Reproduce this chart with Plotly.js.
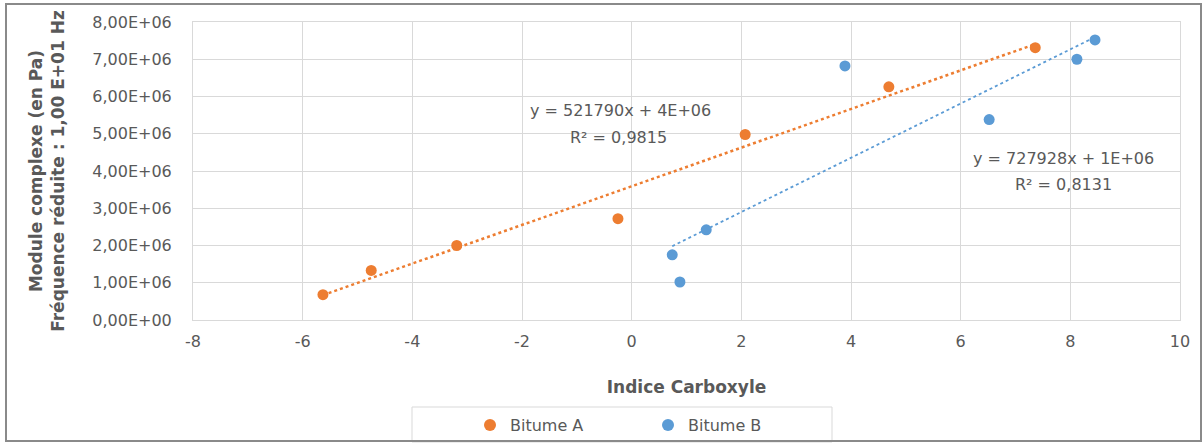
<!DOCTYPE html>
<html>
<head>
<meta charset="utf-8">
<script src="https://cdn.plot.ly/plotly-3.0.1.min.js"></script>
<style>
html,body{margin:0;padding:0;background:#fff;}
#chart{position:absolute;left:0;top:0;width:1204px;height:443px;}
#frame{position:absolute;left:5px;top:3px;width:1193px;height:435px;border:2px solid #8a8a8a;pointer-events:none;}
</style>
</head>
<body>
<div id="chart"></div>
<div id="frame"></div>
<script>
// Data
const seriesNames = ["Bitume A", "Bitume B"];
const bitumeA_x = [-5.63, -4.75, -3.19, -0.25, 2.07, 4.69, 7.36];
const bitumeA_y = [0.68e6, 1.33e6, 2.0e6, 2.72e6, 4.98e6, 6.26e6, 7.31e6];
const bitumeB_x = [0.74, 0.88, 1.36, 3.89, 6.52, 8.12, 8.45];
const bitumeB_y = [1.75e6, 1.02e6, 2.42e6, 6.82e6, 5.38e6, 7.0e6, 7.52e6];
const equationA = ["y = 521790x + 4E+06", "R² = 0,9815"];
const equationB = ["y = 727928x + 1E+06", "R² = 0,8131"];
const yTickVals = [0, 1e6, 2e6, 3e6, 4e6, 5e6, 6e6, 7e6, 8e6];
const yTickText = ["0,00E+00","1,00E+06","2,00E+06","3,00E+06","4,00E+06","5,00E+06","6,00E+06","7,00E+06","8,00E+06"];
const xTickVals = [-8,-6,-4,-2,0,2,4,6,8,10];
const xTickText = ["-8","-6","-4","-2","0","2","4","6","8","10"];
const xTitle = "Indice Carboxyle";
const yTitle = "Module complexe (en Pa)<br>Fréquence réduite : 1,00 E+01 Hz";

const orange = "#ED7D31";
const blue = "#5B9BD5";
const textGray = "#595959";
const FONT = "DejaVu Sans, sans-serif";

function linfit(xs, ys) {
  const n = xs.length;
  const mx = xs.reduce((a,b)=>a+b,0)/n;
  const my = ys.reduce((a,b)=>a+b,0)/n;
  let sxx=0, sxy=0;
  for (let i=0;i<n;i++){ sxx+=(xs[i]-mx)**2; sxy+=(xs[i]-mx)*(ys[i]-my); }
  const m = sxy/sxx, b = my - m*mx;
  const x0 = Math.min(...xs), x1 = Math.max(...xs);
  return {x:[x0,x1], y:[m*x0+b, m*x1+b]};
}
const fitA = linfit(bitumeA_x, bitumeA_y);
const fitB = linfit(bitumeB_x, bitumeB_y);

const traces = [
  {x: fitA.x, y: fitA.y, mode:"lines", line:{color:orange, width:2.5, dash:"dot"}, showlegend:false, hoverinfo:"skip"},
  {x: fitB.x, y: fitB.y, mode:"lines", line:{color:blue, width:1.8, dash:"dot"}, showlegend:false, hoverinfo:"skip"},
  {x: bitumeA_x, y: bitumeA_y, mode:"markers", name: seriesNames[0], marker:{color:orange, size:11}},
  {x: bitumeB_x, y: bitumeB_y, mode:"markers", name: seriesNames[1], marker:{color:blue, size:11}}
];

const W=1204, H=443;
const L=193, R=1180, T=22, B=320;
const pw = R-L, ph = B-T;
function px2paperX(p){ return (p-L)/pw; }
function px2paperY(p){ return (B-p)/ph; }

const layout = {
  width:W, height:H,
  margin:{l:L, r:W-R, t:T, b:H-B, pad:0},
  paper_bgcolor:"#fff", plot_bgcolor:"#fff",
  font:{family:FONT, color:textGray, size:16},
  showlegend:true,
  legend:{orientation:"h", xref:"container", yref:"container",
          x:470/W, xanchor:"left", y:(H-425)/H, yanchor:"middle",
          font:{family:FONT, size:16, color:textGray}, entrywidth:133, entrywidthmode:"pixels",
          itemsizing:"constant", bgcolor:"rgba(0,0,0,0)", borderwidth:0},
  xaxis:{range:[-8,10], tickvals:xTickVals, ticktext:xTickText, showgrid:true, gridcolor:"#D9D9D9", gridwidth:1,
         zeroline:false, showline:true, linecolor:"#D9D9D9", mirror:true, ticks:"",
         tickfont:{family:FONT, size:16, color:textGray}, ticklabelstandoff:7,
         title:{text:xTitle, font:{family:FONT, size:17, color:textGray, weight:"bold"}, standoff:30},
         automargin:false, fixedrange:true},
  yaxis:{range:[0,8e6], tickvals:yTickVals, ticktext:yTickText, showgrid:true, gridcolor:"#D9D9D9", gridwidth:1,
         zeroline:false, showline:true, linecolor:"#D9D9D9", mirror:true, ticks:"",
         tickfont:{family:FONT, size:16, color:textGray}, ticklabelstandoff:17,
         title:{text:yTitle, font:{family:FONT, size:17, color:textGray, weight:"bold"}, standoff:23},
         automargin:false, fixedrange:true},
  shapes:[{type:"rect", xref:"paper", yref:"paper", x0:px2paperX(412), x1:px2paperX(832),
           y0:px2paperY(442), y1:px2paperY(407), line:{color:"#D9D9D9", width:1}, fillcolor:"rgba(0,0,0,0)", layer:"below"}],
  annotations:[
    {xref:"paper", yref:"paper", x:px2paperX(620), y:px2paperY(110), text:equationA[0], showarrow:false,
     xanchor:"center", yanchor:"middle", font:{family:FONT, size:16, color:textGray}},
    {xref:"paper", yref:"paper", x:px2paperX(618), y:px2paperY(137), text:equationA[1], showarrow:false,
     xanchor:"center", yanchor:"middle", font:{family:FONT, size:16, color:textGray}},
    {xref:"paper", yref:"paper", x:px2paperX(1063), y:px2paperY(158), text:equationB[0], showarrow:false,
     xanchor:"center", yanchor:"middle", font:{family:FONT, size:16, color:textGray}},
    {xref:"paper", yref:"paper", x:px2paperX(1063), y:px2paperY(184), text:equationB[1], showarrow:false,
     xanchor:"center", yanchor:"middle", font:{family:FONT, size:16, color:textGray}}
  ]
};

Plotly.newPlot("chart", traces, layout, {displayModeBar:false, staticPlot:true});
</script>
</body>
</html>
